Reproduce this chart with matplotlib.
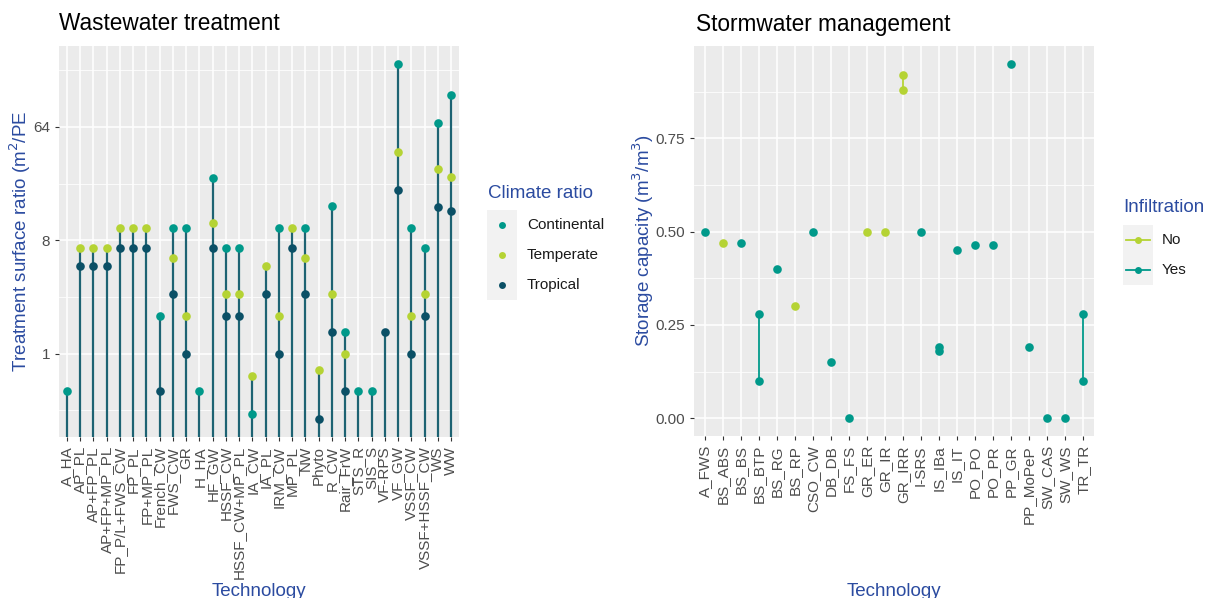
import numpy as np
import matplotlib.pyplot as plt
from matplotlib.lines import Line2D
from matplotlib.patches import Rectangle

plt.rcParams['font.family'] = ['Liberation Sans', 'DejaVu Sans']

# Wastewater treatment data (m2/PE), nan = no value
ww_tech = ['A_HA', 'AP_PL', 'AP+FP_PL', 'AP+FP+MP_PL', 'FP_P/L+FWS_CW', 'FP_PL',
           'FP+MP_PL', 'French_CW', 'FWS_CW', 'GR', 'H_HA', 'HF_GW', 'HSSF_CW',
           'HSSF_CW+MP_PL', 'IA_CW', 'IA_PL', 'IRM_CW', 'MP_PL', 'NW', 'Phyto',
           'R_CW', 'Rair_FrW', 'STS_R', 'SIS_S', 'VF-RPS', 'VF_GW', 'VSSF_CW',
           'VSSF+HSSF_CW', 'WS', 'WW']
nan = np.nan
continental = [0.5, nan, nan, nan, nan, nan, nan, 2, 10, 10, 0.5, 25, 7, 7, 0.33,
               nan, 10, nan, 10, nan, 15, 1.5, 0.5, 0.5, nan, 204, 10, 7, 69, 114]
temperate = [nan, 7, 7, 7, 10, 10, 10, nan, 5.8, 2, nan, 11, 3, 3, 0.66,
             5, 2, 10, 5.8, 0.74, 3, 1, nan, nan, nan, 40.6, 2, 3, 29.5, 25.6]
tropical = [nan, 5, 5, 5, 7, 7, 7, 0.5, 3, 1, nan, 7, 2, 2, nan,
            3, 1, 7, 3, 0.3, 1.5, 0.5, nan, nan, 1.5, 20.3, 1, 2, 14.7, 13.6]

# Stormwater management data (m3/m3)
sw_tech = ['A_FWS', 'BS_ABS', 'BS_BS', 'BS_BTP', 'BS_RG', 'BS_RP', 'CSO_CW', 'DB_DB',
           'FS_FS', 'GR_ER', 'GR_IR', 'GR_IRR', 'I-SRS', 'IS_IBa', 'IS_IT', 'PO_PO',
           'PO_PR', 'PP_GR', 'PP_MoPeP', 'SW_CAS', 'SW_WS', 'TR_TR']
sw_point_tech = ['A_FWS', 'BS_ABS', 'BS_BS', 'BS_BTP', 'BS_BTP', 'BS_RG', 'BS_RP',
                 'CSO_CW', 'DB_DB', 'FS_FS', 'GR_ER', 'GR_IR', 'GR_IRR', 'GR_IRR',
                 'I-SRS', 'IS_IBa', 'IS_IBa', 'IS_IT', 'PO_PO', 'PO_PR', 'PP_GR',
                 'PP_MoPeP', 'SW_CAS', 'SW_WS', 'TR_TR', 'TR_TR']
sw_point_infil = ['Yes', 'No', 'Yes', 'Yes', 'Yes', 'Yes', 'No',
                  'Yes', 'Yes', 'Yes', 'No', 'No', 'No', 'No',
                  'Yes', 'Yes', 'Yes', 'Yes', 'Yes', 'Yes', 'Yes',
                  'Yes', 'Yes', 'Yes', 'Yes', 'Yes']
sw_point_value = [0.50, 0.47, 0.47, 0.28, 0.10, 0.40, 0.30,
                  0.50, 0.15, 0.00, 0.50, 0.50, 0.92, 0.88,
                  0.50, 0.19, 0.18, 0.45, 0.465, 0.465, 0.95,
                  0.19, 0.00, 0.00, 0.28, 0.10]

climate_colors = {'Continental': '#00998A', 'Temperate': '#B5D334', 'Tropical': '#0B5066'}
infil_colors = {'No': '#B5D334', 'Yes': '#00998A'}
seg_color = '#1E6373'
blue = '#2B4BA0'
W, H = 1206, 598

fig = plt.figure(figsize=(W / 100, H / 100), dpi=100)


def style(ax):
    ax.set_facecolor('#EBEBEB')
    for s in ax.spines.values():
        s.set_visible(False)
    ax.grid(True, which='major', color='white', linewidth=1.1)
    ax.grid(True, which='minor', color='white', linewidth=0.55)
    ax.set_axisbelow(True)
    ax.tick_params(which='major', length=3, color='#333333', labelcolor='#4D4D4D',
                   labelsize=11, width=0.8)
    ax.tick_params(which='minor', length=0)


# ---- Left panel ----
ax1 = fig.add_axes([59 / W, 1 - 437 / H, 400 / W, 391 / H])
style(ax1)
ax1.set_yscale('log', base=2)
x1 = np.arange(len(ww_tech))
allv = np.array(continental + temperate + tropical, dtype=float)
lo, hi = np.log2(np.nanmin(allv)), np.log2(np.nanmax(allv))
pad = (hi - lo) * 0.05
ax1.set_ylim(2 ** (lo - pad), 2 ** (hi + pad))
ax1.set_xlim(-0.6, len(ww_tech) - 0.4)
tops = np.nanmax(np.array([continental, temperate, tropical], dtype=float), axis=0)
ax1.vlines(x1, 2 ** (lo - pad), tops, color=seg_color, linewidth=1.6, zorder=2)
for name, vals in [('Continental', continental), ('Temperate', temperate), ('Tropical', tropical)]:
    ax1.plot(x1, vals, 'o', color=climate_colors[name], markersize=6.2,
             markeredgewidth=0, zorder=3)
ax1.set_yticks([1, 8, 64])
ax1.set_yticklabels(['1', '8', '64'])
ax1.set_yticks([2 ** -1.5, 2 ** 1.5, 2 ** 4.5, 2 ** 7.5], minor=True)
ax1.yaxis.set_minor_formatter(plt.NullFormatter())
ax1.set_xticks(x1)
ax1.set_xticklabels(ww_tech, rotation=90, ha='center', va='top')
ax1.xaxis.set_minor_locator(plt.NullLocator())

# ---- Right panel ----
ax2 = fig.add_axes([694 / W, 1 - 436 / H, 400 / W, 390 / H])
style(ax2)
x2 = np.arange(len(sw_tech))
vmin, vmax = min(sw_point_value), max(sw_point_value)
pad2 = (vmax - vmin) * 0.05
ax2.set_ylim(vmin - pad2, vmax + pad2)
ax2.set_xlim(-0.6, len(sw_tech) - 0.4)
for t in sw_tech:
    for inf in ['No', 'Yes']:
        ys = [v for pt, pi, v in zip(sw_point_tech, sw_point_infil, sw_point_value)
              if pt == t and pi == inf]
        if ys:
            xs = [sw_tech.index(t)] * len(ys)
            ax2.plot(xs, ys, '-', color=infil_colors[inf], linewidth=1.3, zorder=2)
            ax2.plot(xs, ys, 'o', color=infil_colors[inf], markersize=6.2,
                     markeredgewidth=0, zorder=3)
ax2.set_yticks([0, 0.25, 0.5, 0.75])
ax2.set_yticklabels(['0.00', '0.25', '0.50', '0.75'])
ax2.set_yticks([0.125, 0.375, 0.625, 0.875], minor=True)
ax2.yaxis.set_minor_formatter(plt.NullFormatter())
ax2.set_xticks(x2)
ax2.set_xticklabels(sw_tech, rotation=90, ha='center', va='top')
ax2.xaxis.set_minor_locator(plt.NullLocator())

# ---- Titles and axis titles ----
fig.text(59 / W, 1 - 24 / H, 'Wastewater treatment', fontsize=16.3, va='center', color='black')
fig.text(696 / W, 1 - 24 / H, 'Stormwater management', fontsize=16.3, va='center', color='black')
fig.text(20 / W, 1 - 241 / H, 'Treatment surface ratio (m$^2$/PE', rotation=90,
         fontsize=13.5, color=blue, ha='center', va='center')
fig.text(643 / W, 1 - 241 / H, 'Storage capacity (m$^3$/m$^3$)', rotation=90,
         fontsize=13.5, color=blue, ha='center', va='center')
fig.text(259 / W, 1 - 591 / H, 'Technology', fontsize=13.5, color=blue, ha='center', va='center')
fig.text(894 / W, 1 - 591 / H, 'Technology', fontsize=13.5, color=blue, ha='center', va='center')

# ---- Legends (ggplot style) ----
fig.text(488 / W, 1 - 193 / H, 'Climate ratio', fontsize=13.5, color=blue, va='center')
fig.add_artist(Rectangle((487 / W, 1 - 300 / H), 30 / W, 90 / H,
                         transform=fig.transFigure, facecolor='#F2F2F2', edgecolor='none'))
for i, name in enumerate(['Continental', 'Temperate', 'Tropical']):
    yy = 1 - (225 + 30 * i) / H
    fig.add_artist(Line2D([502 / W], [yy], marker='o', color=climate_colors[name],
                          markersize=5, markeredgewidth=0, transform=fig.transFigure))
    fig.text(527 / W, yy, name, fontsize=11, color='#1A1A1A', va='center')

fig.text(1123 / W, 1 - 208 / H, 'Infiltration', fontsize=13.5, color=blue, va='center')
fig.add_artist(Rectangle((1123 / W, 1 - 285 / H), 30 / W, 60 / H,
                         transform=fig.transFigure, facecolor='#F2F2F2', edgecolor='none'))
for i, name in enumerate(['No', 'Yes']):
    yy = 1 - (240 + 30 * i) / H
    fig.add_artist(Line2D([1126 / W, 1150 / W], [yy, yy], color=infil_colors[name],
                          linewidth=1.3, transform=fig.transFigure))
    fig.add_artist(Line2D([1138 / W], [yy], marker='o', color=infil_colors[name],
                          markersize=5, markeredgewidth=0, transform=fig.transFigure))
    fig.text(1162 / W, yy, name, fontsize=11, color='#1A1A1A', va='center')

fig.savefig('out.png', dpi=100)
